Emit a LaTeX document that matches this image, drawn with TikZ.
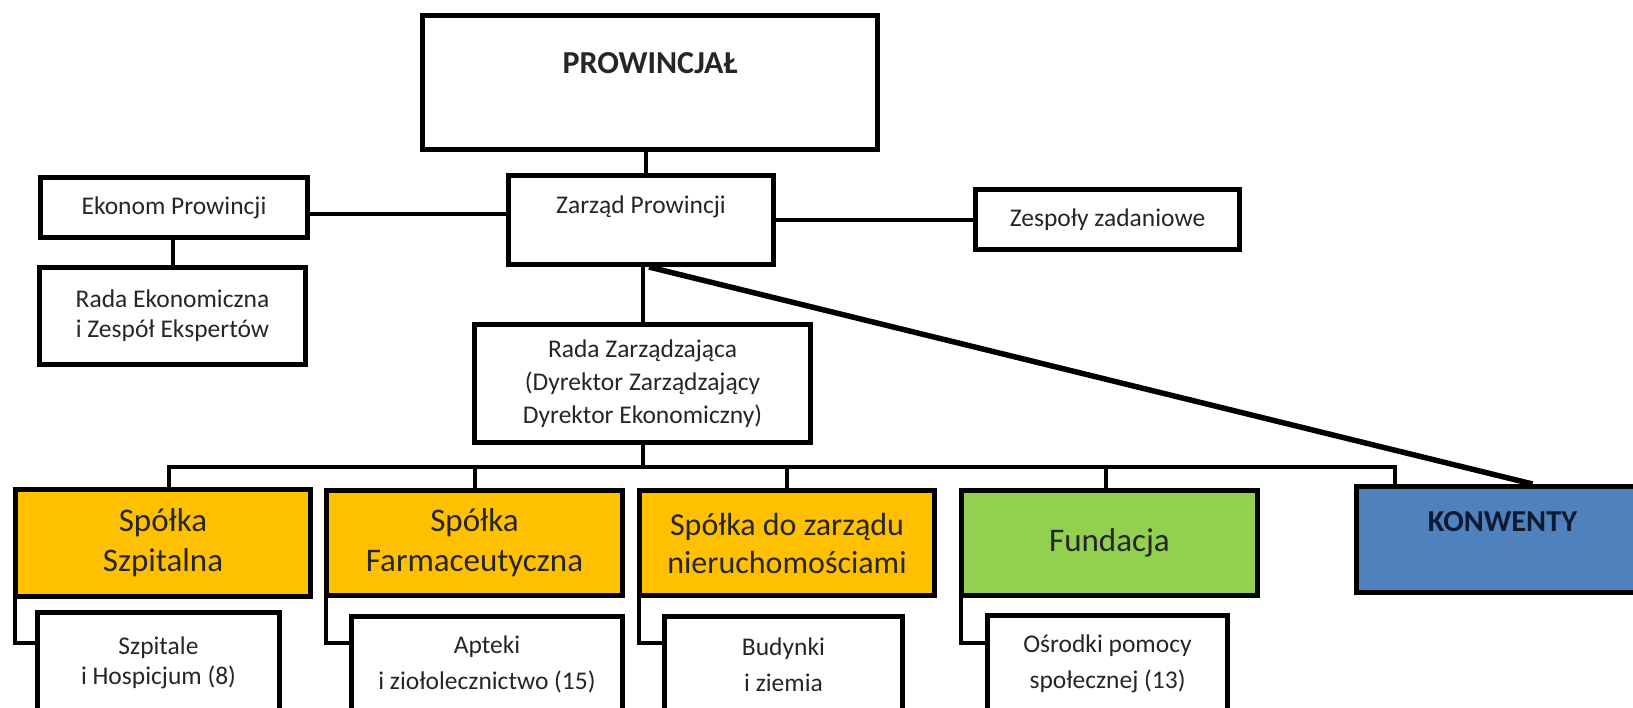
\documentclass[tikz,border=0pt]{standalone}
\usepackage{fontspec}
\setmainfont{Carlito}
\definecolor{orng}{HTML}{FFC000}
\definecolor{grn}{HTML}{92D050}
\definecolor{blu}{HTML}{4F81BD}
\definecolor{txt}{HTML}{262626}
\definecolor{navy}{HTML}{0D1A33}
\begin{document}
\begin{tikzpicture}[x=0.5pt,y=-0.5pt,
  box/.style={draw=black, line width=2.5pt, rectangle, inner sep=0pt, anchor=north west,
    align=center, fill=white, text=txt, font=\fontsize{12.75}{16}\selectfont},
  parent/.style={box, font=\fontsize{16.5}{20}\selectfont, minimum height=52.5pt},
  child/.style={box, font=\fontsize{12.75}{18}\selectfont, minimum height=48pt},
  conn/.style={draw=black, line width=2pt}]
\useasboundingbox (0,0) rectangle (1633,707);

\node[box, minimum width=227.5pt, minimum height=67pt, text height=29pt, text depth=38pt,
  font=\bfseries\fontsize{16}{18}\selectfont] (prow) at (420,13) {PROWINCJAŁ};
\node[box, minimum width=132.5pt, minimum height=44.5pt, text height=18.75pt, text depth=25.75pt] (zarzad) at (506,173) {Zarząd Prowincji};
\node[box, minimum width=133.5pt, minimum height=30pt] (ekonom) at (38,175) {Ekonom Prowincji};
\node[box, minimum width=133pt, minimum height=48.5pt, font=\fontsize{12.75}{15}\selectfont] (radaek) at (37,265) {Rada Ekonomiczna\\i Zespół Ekspertów};
\node[box, minimum width=132pt, minimum height=30pt] (zespoly) at (973,187) {Zespoły zadaniowe};
\node[box, minimum width=168pt, minimum height=59pt, font=\fontsize{12.75}{16.5}\selectfont] (radazarz) at (472,322) {Rada Zarządzająca\\(Dyrektor Zarządzający\\Dyrektor Ekonomiczny)};

\node[parent, fill=orng, minimum width=147.5pt, minimum height=53.5pt] (szp) at (13,487) {Spółka\\Szpitalna};
\node[parent, fill=orng, minimum width=148pt] (farm) at (324,488) {Spółka\\Farmaceutyczna};
\node[parent, fill=orng, minimum width=147.5pt, font=\fontsize{16}{19}\selectfont] (nier) at (637,488) {Spółka do zarządu\\nieruchomościami};
\node[parent, fill=grn, minimum width=148pt] (fund) at (959,488) {Fundacja};
\node[box, fill=blu, text=navy, minimum width=146pt, minimum height=53pt, text height=22.5pt, text depth=30.5pt,
  font=\bfseries\fontsize{15.2}{18}\selectfont] (konw) at (1354,484) {KONWENTY};

\node[child, minimum width=121pt, minimum height=50pt, font=\fontsize{12.75}{15}\selectfont] (c1) at (35,610) {Szpitale\\i Hospicjum (8)};
\node[child, minimum width=135.5pt] (c2) at (349,614) {Apteki\\i ziołolecznictwo (15)};
\node[child, minimum width=119pt] (c3) at (662,614) {Budynki\\i ziemia};
\node[child, minimum width=120pt, minimum height=48.5pt] (c4) at (985,613) {Ośrodki pomocy\\społecznej (13)};

\coordinate (busR) at (1395,467);

\draw[conn] ([xshift=2.25pt]zarzad.north) -- ([xshift=2.25pt]zarzad.north |- prow.south);
\draw[conn] ([yshift=-3pt]ekonom.east) -- ([yshift=-3pt]ekonom.east -| zarzad.west);
\draw[conn] (zespoly.west) -- (zespoly.west -| zarzad.east);
\draw[conn] (radaek.north) -- (radaek.north |- ekonom.south);
\draw[conn] (radazarz.north) -- (radazarz.north |- zarzad.south);
\draw[conn, line width=2.75pt] ([xshift=4pt]zarzad.south) -- ([xshift=15pt]konw.north);

\draw[conn] (radazarz.south) -- (radazarz.south |- busR);
\draw[conn] ([xshift=3pt]szp.north) |- (busR) -- (busR |- konw.north);
\draw[conn] (farm.north) -- (farm.north |- busR);
\draw[conn] (nier.north) -- (nier.north |- busR);
\draw[conn] ([xshift=-2pt]fund.north) -- ([xshift=-2pt]fund.north |- busR);

\draw[conn] ([xshift=1pt]szp.south west) |- ([yshift=10pt]c1.west);
\draw[conn] ([xshift=1pt]farm.south west) |- ([yshift=11pt]c2.west);
\draw[conn] ([xshift=1pt]nier.south west) |- ([yshift=11pt]c3.west);
\draw[conn] ([xshift=1pt]fund.south west) |- ([yshift=10.5pt]c4.west);
\end{tikzpicture}
\end{document}
